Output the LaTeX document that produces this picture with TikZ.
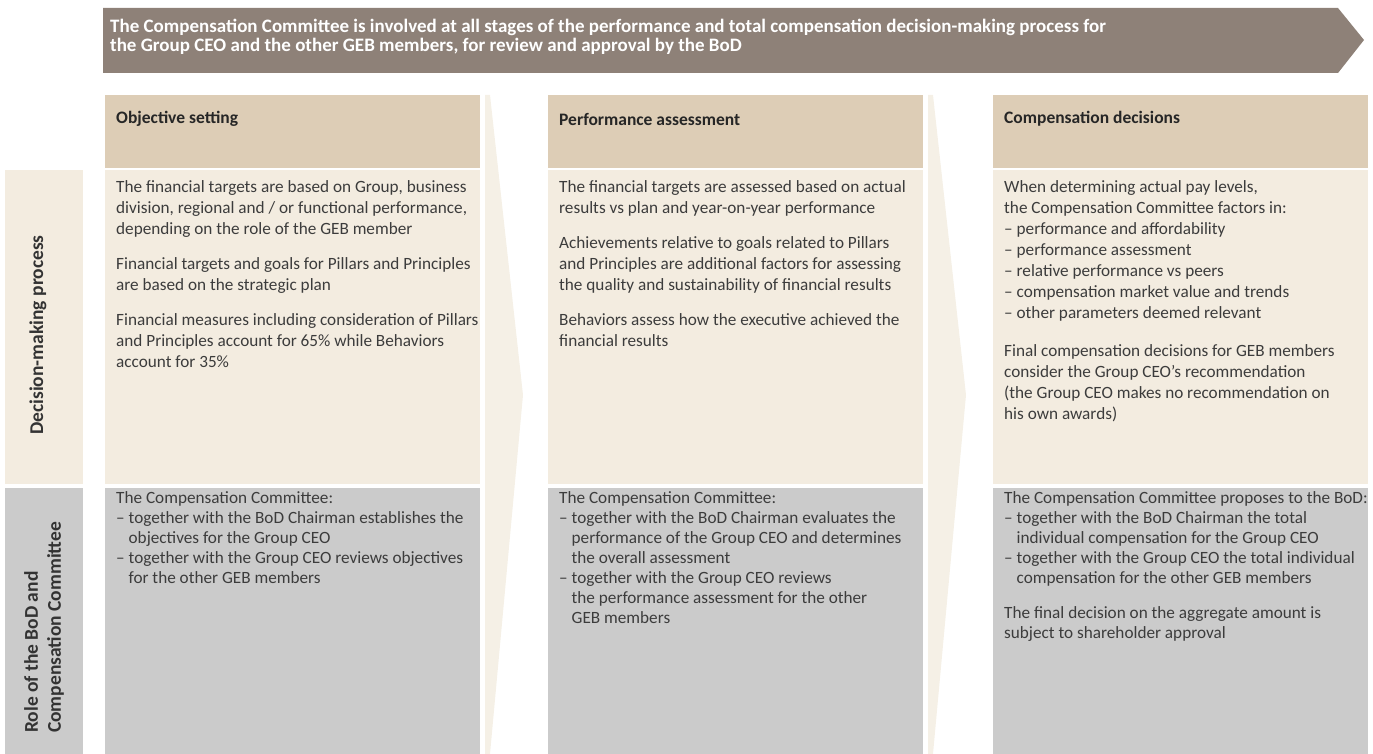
\documentclass[tikz,border=0pt]{standalone}
\usepackage{fontspec}
\setmainfont{Carlito}
\definecolor{bannerbrown}{HTML}{8E8178}
\definecolor{headtan}{HTML}{DDCDB6}
\definecolor{bodycream}{HTML}{F3ECE0}
\definecolor{rolegray}{HTML}{CBCBCB}
\definecolor{chevcream}{HTML}{F5F0E6}
\definecolor{txtgray}{HTML}{3C3C3C}

\begin{document}
\begin{tikzpicture}[x=1pt, y=-1pt,
	bodytext/.style={anchor=north west, inner sep=0pt, align=left, text=txtgray, font=\fontsize{17.2}{21}\selectfont},
	roletext/.style={bodytext, font=\fontsize{17.2}{20}\selectfont},
	headtext/.style={anchor=west, inner sep=0pt, text=black!85, font=\fontsize{17.5}{20}\selectfont\bfseries},
	sidetext/.style={rotate=90, inner sep=0pt, align=left, text=black!80, font=\fontsize{19.5}{23}\selectfont\bfseries}]
	\useasboundingbox (0,0) rectangle (1373,754);
	% banner arrow
	\fill[bannerbrown] (103,8) -- (1338,8) -- (1364,40) -- (1338,73) -- (103,73) -- cycle;
	\node[bodytext, text=white, font=\fontsize{19}{19}\selectfont\bfseries] (banner) at (110,19) {The Compensation Committee is involved at all stages of the performance and total compensation decision-making process for\\the Group CEO and the other GEB members, for review and approval by the BoD};
	% columns
	\foreach \xa/\xb in {105/480, 548/923, 993/1368} {
		\fill[headtan] (\xa,95) rectangle (\xb,168);
		\fill[bodycream] (\xa,170) rectangle (\xb,484);
		\fill[rolegray] (\xa,488) rectangle (\xb,754);
	}
	\foreach \xa in {485, 928}
		\fill[chevcream] (\xa,95) -- (\xa+5,95) -- (\xa+38,395) -- (\xa+5,754) -- (\xa,754) -- cycle;
	% row labels
	\fill[bodycream] (5,170) rectangle (83,484);
	\fill[rolegray] (5,488) rectangle (83,754);
	\node[sidetext] (decision) at (38,335) {Decision-making process};
	\node[sidetext, anchor=west] (role) at (44,733) {Role of the BoD and\\Compensation Committee};
	% headers
	\node[headtext] (objective) at (116,119) {Objective setting};
	\node[headtext] (assessment) at (559,119) {Performance assessment};
	\node[headtext] (decisions) at (1004,119) {Compensation decisions};
	% decision-making process
	\node[bodytext] (objbody) at (116,180) {The financial targets are based on Group, business\\
		division, regional and / or functional performance,\\
		depending on the role of the GEB member\\[14pt]
		Financial targets and goals for Pillars and Principles\\
		are based on the strategic plan\\[14pt]
		Financial measures including consideration of Pillars\\
		and Principles account for 65\% while Behaviors\\
		account for 35\%};
	\node[bodytext] (assbody) at (559,180) {The financial targets are assessed based on actual\\
		results vs plan and year-on-year performance\\[14pt]
		Achievements relative to goals related to Pillars\\
		and Principles are additional factors for assessing\\
		the quality and sustainability of financial results\\[14pt]
		Behaviors assess how the executive achieved the\\
		financial results};
	\node[bodytext] (decbody) at (1004,180) {When determining actual pay levels,\\
		the Compensation Committee factors in:\\
		– performance and affordability\\
		– performance assessment\\
		– relative performance vs peers\\
		– compensation market value and trends\\
		– other parameters deemed relevant\\[17pt]
		Final compensation decisions for GEB members\\
		consider the Group CEO’s recommendation\\
		(the Group CEO makes no recommendation on\\
		his own awards)};
	% role of the BoD and Compensation Committee
	\node[roletext] (objrole) at (116,491) {The Compensation Committee:\\
		– together with the BoD Chairman establishes the\\
		\phantom{– }objectives for the Group CEO\\
		– together with the Group CEO reviews objectives\\
		\phantom{– }for the other GEB members};
	\node[roletext] (assrole) at (559,491) {The Compensation Committee:\\
		– together with the BoD Chairman evaluates the\\
		\phantom{– }performance of the Group CEO and determines\\
		\phantom{– }the overall assessment\\
		– together with the Group CEO reviews\\
		\phantom{– }the performance assessment for the other\\
		\phantom{– }GEB members};
	\node[roletext] (decrole) at (1004,491) {The Compensation Committee proposes to the BoD:\\
		– together with the BoD Chairman the total\\
		\phantom{– }individual compensation for the Group CEO\\
		– together with the Group CEO the total individual\\
		\phantom{– }compensation for the other GEB members\\[15pt]
		The final decision on the aggregate amount is\\
		subject to shareholder approval};
\end{tikzpicture}
\end{document}
